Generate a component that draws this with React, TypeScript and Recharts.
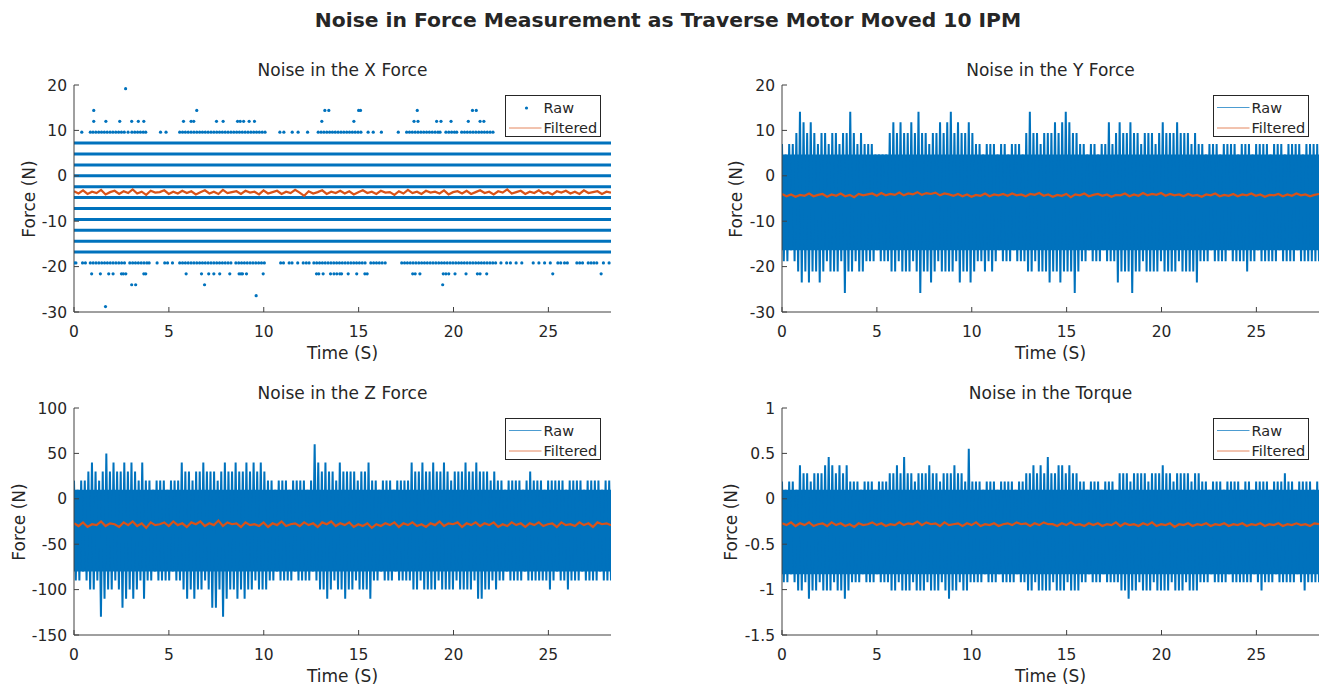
import React from 'react';
import { Area, ComposedChart, Line, Scatter, XAxis, YAxis } from 'recharts';

const FONT = '"DejaVu Sans", sans-serif';
const BLUE = '#0072BD';
const ORANGE = '#D95319';
const INK = '#262626';
const AXIS = '#404040';

const DURATION = 28.3;
const TIME_TICKS = [0, 5, 10, 15, 20, 25];
const FORCE_TICKS_XY = [-30, -20, -10, 0, 10, 20];
const FORCE_TICKS_Z = [-150, -100, -50, 0, 50, 100];
const TORQUE_TICKS = [-1.5, -1, -0.5, 0, 0.5, 1];

// X force raw: levels the sensor sits on through the whole record
const X_RAW_LEVELS = [7.2, 4.8, 2.4, 0, -2.4, -4.8, -7.2, -9.6, -12.0, -14.4, -16.8];
// X force raw: sparse samples (times in s) on the outer levels
const X_DOTS_19_2 = [2.72];
const X_DOTS_14_4 = [1.04, 6.47, 13.22, 13.43, 15.0, 15.1, 18.09, 21.0, 21.2];
const X_DOTS_12_0 = [
  1.04, 1.68, 2.41, 3.04, 3.39, 3.68, 5.77, 6.17, 6.31, 7.51, 7.86, 8.62, 8.76, 8.94, 9.23, 9.51,
  13.06, 14.75, 17.92, 18.13, 19.11, 19.34, 19.87, 20.78, 21.4, 21.6,
];
const X_DOTS_9_6 = [
  0.41, 0.86, 1.0, 1.15, 1.3, 1.45, 1.6, 1.75, 1.9, 2.05, 2.2, 2.35, 2.5, 2.65, 2.85, 3.05, 3.2,
  3.35, 3.5, 3.65, 3.78, 4.56, 4.85, 5.57, 5.72, 5.87, 6.02, 6.17, 6.32, 6.47, 6.62, 6.77, 6.92,
  7.07, 7.22, 7.37, 7.52, 7.67, 7.82, 7.97, 8.12, 8.27, 8.42, 8.57, 8.72, 8.87, 9.02, 9.17, 9.32,
  9.47, 9.62, 9.77, 9.92, 10.07, 10.85, 11.06, 11.5, 11.81, 12.31, 12.87, 13.02, 13.17, 13.32,
  13.47, 13.62, 13.77, 13.92, 14.07, 14.22, 14.37, 14.52, 14.67, 14.82, 14.97, 15.12, 15.5, 15.77,
  16.2, 17.09, 17.53, 17.68, 17.83, 17.98, 18.13, 18.28, 18.43, 18.58, 18.73, 18.88, 19.03, 19.18,
  19.29, 19.6, 19.75, 19.9, 20.05, 20.17, 20.43, 20.58, 20.73, 20.88, 21.03, 21.18, 21.33, 21.48,
  21.63, 21.78, 21.93, 22.08,
];
const X_DOTS_M19_2 = [
  0.0, 0.1, 0.45, 0.6, 0.86, 1.01, 1.16, 1.31, 1.46, 1.61, 1.76, 1.91, 2.06, 2.21, 2.36, 2.51,
  2.66, 2.94, 3.09, 3.24, 3.39, 3.54, 3.69, 3.84, 3.96, 4.38, 4.78, 4.93, 5.19, 5.57, 5.72, 5.87,
  6.02, 6.17, 6.32, 6.47, 6.62, 6.77, 6.92, 7.07, 7.22, 7.37, 7.52, 7.67, 7.82, 7.97, 8.12, 8.27,
  8.53, 8.68, 8.83, 8.98, 9.13, 9.28, 9.43, 9.58, 9.73, 9.88, 10.03, 10.89, 11.04, 11.34, 11.49,
  11.79, 12.08, 12.24, 12.39, 12.64, 12.79, 12.94, 13.09, 13.24, 13.39, 13.54, 13.69, 13.84, 13.99,
  14.14, 14.29, 14.44, 14.59, 14.74, 14.89, 15.04, 15.19, 15.34, 15.64, 15.79, 15.94, 16.09, 16.24,
  16.4, 17.27, 17.42, 17.57, 17.72, 17.87, 18.02, 18.17, 18.32, 18.47, 18.62, 18.77, 18.92, 19.07,
  19.22, 19.37, 19.52, 19.67, 19.82, 19.97, 20.12, 20.27, 20.42, 20.57, 20.72, 20.87, 21.02, 21.17,
  21.32, 21.47, 21.62, 21.77, 21.92, 22.07, 22.22, 22.5, 22.8, 23.0, 23.3, 23.6, 24.2, 24.5, 24.8,
  25.1, 25.5, 25.65, 25.85, 26.0, 26.5, 26.65, 26.8, 27.1, 27.25, 27.4, 27.55, 27.9, 28.2,
];
const X_DOTS_M21_6 = [
  0.93, 1.39, 1.83, 2.06, 2.5, 2.6, 2.73, 3.68, 3.78, 5.91, 6.72, 7.1, 7.37, 7.68, 8.21, 8.7, 8.8,
  8.88, 9.09, 9.97, 12.78, 12.9, 13.13, 13.52, 13.7, 13.85, 14.01, 14.1, 14.45, 14.9, 15.33, 15.45,
  17.85, 17.98, 18.23, 19.46, 19.6, 19.75, 20.08, 20.66, 21.26, 21.4, 21.75, 25.23, 27.78,
];
const X_DOTS_M24_0 = [3.04, 3.25, 6.88, 19.43];
const X_DOTS_M26_4 = [9.6];
const X_DOTS_M28_8 = [1.66];

const X_FILTERED = [
  -3.4, -3.9, -3.2, -4.0, -3.5, -3.8, -3.1, -4.1, -3.6, -3.3,
  -4.0, -3.4, -3.8, -3.0, -3.9, -3.5, -4.2, -3.3, -3.7, -3.6,
  -3.2, -4.0, -3.5, -3.9, -3.3, -3.8, -3.4, -4.1, -3.6, -3.2,
  -3.9, -3.5, -4.0, -3.1, -3.8, -3.6, -3.4, -4.0, -3.3, -3.7,
  -3.5, -4.1, -3.2, -3.9, -3.6, -3.3, -4.0, -3.5, -3.8, -3.1,
  -3.7, -4.4, -3.4, -3.9, -3.6, -3.2, -4.0, -3.5, -3.8, -3.3,
  -3.9, -3.4, -4.1, -3.6, -3.2, -3.8, -3.5, -4.0, -3.3, -3.7,
  -3.6, -4.2, -3.4, -3.9, -3.1, -3.8, -3.5, -4.0, -3.3, -3.7,
  -3.5, -3.9, -3.2, -4.1, -3.6, -3.4, -3.9, -3.3, -4.0, -3.6,
  -3.2, -3.8, -3.5, -4.1, -3.4, -3.7, -3.0, -3.9, -3.6, -3.3,
  -4.0, -3.5, -3.8, -3.2, -3.9, -3.6, -4.1, -3.4, -3.7, -3.3,
  -3.9, -3.5, -4.0, -3.2, -3.8, -3.6, -3.4, -4.0, -3.5, -3.7,
];

// Y force raw: band always covered, then per-interval peaks and troughs
const Y_RAW_CORE = [-16.4, 4.7];
const Y_RAW_HIGH = [
  7.0, 4.7, 7.0, 7.0, 9.4, 14.1, 11.8, 9.4, 11.8, 9.4,
  7.0, 9.4, 9.4, 7.0, 9.4, 9.4, 7.0, 9.4, 9.4, 14.1,
  9.4, 7.0, 9.4, 7.0, 7.0, 7.0, 4.7, 4.7, 4.7, 4.7,
  9.4, 11.8, 9.4, 11.8, 9.4, 9.4, 11.8, 9.4, 14.1, 9.4,
  9.4, 7.0, 9.4, 9.4, 11.8, 9.4, 11.8, 14.1, 9.4, 11.8,
  9.4, 9.4, 11.8, 9.4, 7.0, 7.0, 4.7, 7.0, 7.0, 7.0,
  4.7, 7.0, 7.0, 4.7, 7.0, 7.0, 7.0, 4.7, 9.4, 14.1,
  9.4, 9.4, 7.0, 9.4, 9.4, 9.4, 11.8, 9.4, 11.8, 14.1,
  11.8, 9.4, 9.4, 7.0, 7.0, 4.7, 7.0, 7.0, 4.7, 7.0,
  7.0, 11.8, 7.0, 9.4, 11.8, 9.4, 9.4, 11.8, 9.4, 9.4,
  7.0, 9.4, 9.4, 9.4, 7.0, 9.4, 11.8, 9.4, 9.4, 9.4,
  11.8, 9.4, 9.4, 9.4, 7.0, 9.4, 7.0, 7.0, 4.7, 7.0,
  7.0, 7.0, 4.7, 7.0, 7.0, 7.0, 7.0, 4.7, 7.0, 7.0,
  7.0, 4.7, 7.0, 7.0, 7.0, 7.0, 4.7, 7.0, 7.0, 7.0,
  4.7, 7.0, 7.0, 7.0, 7.0, 4.7, 7.0, 7.0, 7.0, 7.0,
];
const Y_RAW_LOW = [
  -18.8, -18.8, -16.4, -18.8, -21.1, -23.5, -21.1, -23.5, -21.1, -21.1,
  -23.5, -21.1, -18.8, -21.1, -21.1, -21.1, -18.8, -25.8, -21.1, -21.1,
  -18.8, -21.1, -21.1, -18.8, -18.8, -18.8, -16.4, -18.8, -18.8, -18.8,
  -21.1, -21.1, -18.8, -21.1, -21.1, -21.1, -18.8, -21.1, -25.8, -21.1,
  -21.1, -23.5, -21.1, -18.8, -21.1, -21.1, -21.1, -21.1, -18.8, -23.5,
  -21.1, -21.1, -23.5, -21.1, -18.8, -18.8, -21.1, -18.8, -21.1, -18.8,
  -16.4, -18.8, -18.8, -18.8, -16.4, -18.8, -18.8, -18.8, -21.1, -21.1,
  -18.8, -21.1, -21.1, -21.1, -23.5, -21.1, -21.1, -23.5, -21.1, -21.1,
  -21.1, -25.8, -21.1, -18.8, -18.8, -16.4, -18.8, -18.8, -18.8, -16.4,
  -18.8, -18.8, -18.8, -23.5, -21.1, -21.1, -21.1, -25.8, -21.1, -21.1,
  -18.8, -21.1, -21.1, -21.1, -21.1, -18.8, -21.1, -21.1, -21.1, -21.1,
  -18.8, -21.1, -21.1, -21.1, -21.1, -23.5, -18.8, -18.8, -18.8, -16.4,
  -18.8, -18.8, -18.8, -18.8, -16.4, -18.8, -18.8, -18.8, -18.8, -21.1,
  -18.8, -18.8, -16.4, -18.8, -18.8, -18.8, -18.8, -18.8, -16.4, -18.8,
  -18.8, -18.8, -18.8, -16.4, -18.8, -18.8, -18.8, -18.8, -18.8, -18.8,
];
const Y_FILTERED = [
  -4.0, -4.5, -4.1, -4.6, -4.2, -4.4, -3.9, -4.5, -4.2, -4.0,
  -4.6, -4.1, -4.4, -3.9, -4.5, -4.2, -4.7, -4.0, -4.3, -4.1,
  -3.9, -4.4, -3.8, -4.3, -4.0, -4.2, -3.7, -4.3, -3.9, -4.1,
  -3.6, -4.2, -3.8, -4.0, -3.7, -4.3, -3.9, -4.1, -4.4, -4.0,
  -4.5, -4.1, -4.6, -4.2, -4.4, -3.9, -4.5, -4.1, -4.3, -4.0,
  -4.4, -3.9, -4.3, -4.1, -4.5, -4.0, -4.2, -3.8, -4.4, -4.1,
  -4.6, -4.2, -4.4, -4.0, -4.7, -4.1, -4.3, -3.9, -4.5, -4.2,
  -4.0, -4.4, -4.1, -4.6, -4.2, -4.3, -3.9, -4.5, -4.1, -4.4,
  -3.8, -4.3, -4.0, -4.2, -3.8, -4.4, -4.0, -4.3, -4.1, -4.5,
  -4.0, -4.4, -4.2, -4.6, -4.1, -4.3, -3.9, -4.5, -4.2, -4.4,
  -4.0, -4.5, -4.1, -4.3, -3.9, -4.4, -4.1, -4.6, -4.2, -4.3,
  -4.0, -4.5, -4.1, -4.4, -3.9, -4.3, -4.1, -4.5, -4.2, -4.0,
];

// Z force raw
const Z_RAW_CORE = [-80, 10];
const Z_RAW_HIGH = [
  20, 10, 20, 20, 30, 40, 30, 20, 30, 50,
  30, 40, 30, 30, 40, 30, 40, 30, 20, 40,
  20, 20, 10, 20, 20, 20, 10, 20, 20, 20,
  40, 30, 30, 20, 30, 30, 40, 30, 30, 30,
  20, 30, 40, 30, 30, 40, 30, 30, 40, 30,
  40, 30, 40, 30, 20, 20, 10, 20, 20, 20,
  10, 20, 20, 20, 20, 10, 20, 60, 40, 30,
  40, 30, 30, 20, 40, 30, 30, 30, 30, 20,
  30, 30, 40, 20, 20, 10, 20, 20, 20, 10,
  20, 20, 20, 20, 40, 30, 30, 40, 30, 30,
  40, 30, 30, 40, 30, 20, 30, 30, 30, 40,
  30, 30, 40, 30, 30, 30, 20, 30, 20, 20,
  10, 20, 20, 20, 20, 10, 20, 30, 20, 20,
  20, 10, 20, 20, 20, 20, 20, 10, 20, 20,
  20, 20, 10, 20, 20, 20, 20, 10, 20, 20,
];
const Z_RAW_LOW = [
  -90, -90, -80, -90, -100, -100, -90, -130, -110, -100,
  -100, -90, -100, -120, -110, -100, -110, -100, -90, -110,
  -90, -90, -80, -90, -90, -90, -90, -80, -90, -90,
  -100, -110, -100, -110, -100, -100, -90, -100, -120, -120,
  -100, -130, -110, -100, -100, -110, -100, -110, -100, -100,
  -90, -100, -100, -100, -90, -90, -80, -90, -90, -90,
  -90, -80, -90, -90, -90, -90, -80, -90, -100, -100,
  -110, -100, -90, -100, -100, -110, -100, -100, -90, -100,
  -100, -100, -110, -90, -90, -80, -90, -90, -90, -80,
  -90, -90, -90, -90, -100, -100, -90, -100, -100, -100,
  -100, -90, -100, -100, -100, -100, -90, -100, -100, -100,
  -100, -90, -110, -110, -100, -100, -90, -100, -90, -90,
  -80, -90, -90, -90, -90, -80, -90, -90, -90, -90,
  -90, -90, -100, -90, -80, -90, -90, -100, -90, -90,
  -90, -80, -90, -90, -90, -90, -80, -90, -90, -90,
];
const Z_FILTERED = [
  -27, -30, -26, -31, -28, -29, -25, -30, -27, -28,
  -31, -26, -29, -25, -30, -27, -32, -26, -29, -28,
  -26, -30, -25, -29, -27, -31, -26, -28, -25, -30,
  -27, -29, -24, -30, -26, -28, -27, -31, -26, -29,
  -28, -30, -26, -31, -27, -29, -25, -30, -28, -27,
  -30, -26, -29, -27, -31, -26, -28, -25, -30, -27,
  -29, -26, -31, -28, -30, -27, -32, -28, -30, -27,
  -29, -26, -31, -27, -29, -26, -30, -28, -31, -27,
  -29, -25, -30, -27, -28, -26, -31, -27, -29, -26,
  -30, -27, -29, -26, -31, -28, -30, -26, -29, -27,
  -31, -27, -29, -26, -30, -28, -27, -31, -26, -29,
  -28, -30, -26, -29, -27, -31, -26, -28, -27, -29,
];

// torque raw
const T_RAW_CORE = [-0.83, 0.1];
const T_RAW_HIGH = [
  0.19, 0.1, 0.19, 0.19, 0.1, 0.37, 0.28, 0.28, 0.19, 0.28,
  0.28, 0.28, 0.37, 0.46, 0.37, 0.28, 0.37, 0.28, 0.37, 0.19,
  0.19, 0.19, 0.1, 0.19, 0.19, 0.19, 0.1, 0.19, 0.19, 0.19,
  0.28, 0.28, 0.37, 0.28, 0.46, 0.28, 0.28, 0.19, 0.28, 0.28,
  0.28, 0.37, 0.28, 0.28, 0.19, 0.28, 0.28, 0.28, 0.37, 0.28,
  0.28, 0.19, 0.55, 0.19, 0.19, 0.19, 0.1, 0.19, 0.19, 0.19,
  0.1, 0.19, 0.19, 0.19, 0.19, 0.1, 0.19, 0.19, 0.28, 0.28,
  0.37, 0.28, 0.37, 0.28, 0.46, 0.28, 0.28, 0.37, 0.37, 0.28,
  0.37, 0.28, 0.28, 0.19, 0.19, 0.1, 0.19, 0.19, 0.19, 0.1,
  0.19, 0.19, 0.19, 0.1, 0.28, 0.28, 0.28, 0.19, 0.28, 0.28,
  0.28, 0.28, 0.19, 0.28, 0.28, 0.28, 0.37, 0.28, 0.28, 0.19,
  0.28, 0.28, 0.28, 0.28, 0.19, 0.28, 0.28, 0.19, 0.19, 0.1,
  0.19, 0.19, 0.19, 0.1, 0.19, 0.19, 0.19, 0.19, 0.1, 0.19,
  0.19, 0.1, 0.19, 0.19, 0.19, 0.19, 0.1, 0.19, 0.19, 0.19,
  0.28, 0.19, 0.19, 0.1, 0.19, 0.19, 0.19, 0.19, 0.1, 0.19,
];
const T_RAW_LOW = [
  -0.92, -0.92, -0.83, -0.92, -1.01, -1.01, -0.92, -1.1, -1.01, -1.01,
  -0.92, -1.01, -1.01, -1.01, -0.92, -1.01, -1.01, -1.1, -1.01, -0.92,
  -0.92, -0.92, -0.83, -0.92, -0.92, -0.92, -0.83, -0.92, -0.92, -0.92,
  -1.01, -1.01, -0.92, -1.01, -1.01, -1.01, -0.92, -1.01, -1.01, -1.01,
  -0.92, -1.01, -1.01, -1.01, -0.92, -1.01, -1.1, -1.01, -1.01, -0.92,
  -1.01, -1.01, -0.92, -0.92, -0.92, -0.92, -0.83, -0.92, -0.92, -0.92,
  -0.83, -0.92, -0.92, -0.92, -0.92, -0.83, -0.92, -0.92, -1.01, -1.01,
  -0.92, -1.01, -1.01, -1.01, -1.01, -0.92, -1.01, -1.01, -1.01, -0.92,
  -1.01, -1.01, -1.01, -0.92, -0.92, -0.83, -0.92, -0.92, -0.92, -0.83,
  -0.92, -0.92, -0.92, -0.92, -1.01, -1.01, -1.1, -1.01, -1.01, -0.92,
  -1.01, -1.01, -1.01, -0.92, -1.01, -1.01, -1.01, -1.01, -0.92, -1.01,
  -1.01, -1.01, -0.92, -1.01, -1.01, -1.01, -0.92, -0.92, -0.92, -0.83,
  -0.92, -0.92, -0.92, -0.92, -0.83, -0.92, -0.92, -0.92, -0.92, -0.92,
  -0.92, -0.83, -0.92, -1.01, -0.92, -0.92, -0.92, -0.83, -0.92, -0.92,
  -0.92, -0.92, -0.92, -0.83, -0.92, -1.01, -0.92, -0.92, -0.92, -0.92,
];
const T_FILTERED = [
  -0.27, -0.29, -0.26, -0.30, -0.27, -0.29, -0.26, -0.30, -0.28, -0.27,
  -0.30, -0.26, -0.29, -0.27, -0.30, -0.28, -0.31, -0.27, -0.29, -0.28,
  -0.26, -0.29, -0.27, -0.30, -0.28, -0.29, -0.26, -0.29, -0.27, -0.28,
  -0.25, -0.29, -0.26, -0.28, -0.27, -0.30, -0.26, -0.29, -0.28, -0.27,
  -0.30, -0.27, -0.29, -0.26, -0.30, -0.28, -0.29, -0.27, -0.30, -0.28,
  -0.27, -0.29, -0.26, -0.28, -0.27, -0.30, -0.27, -0.29, -0.26, -0.28,
  -0.28, -0.30, -0.27, -0.29, -0.26, -0.29, -0.28, -0.30, -0.27, -0.29,
  -0.27, -0.30, -0.28, -0.29, -0.26, -0.30, -0.27, -0.29, -0.28, -0.30,
  -0.27, -0.29, -0.26, -0.30, -0.28, -0.29, -0.27, -0.31, -0.28, -0.29,
  -0.27, -0.30, -0.28, -0.29, -0.27, -0.30, -0.28, -0.29, -0.27, -0.30,
  -0.28, -0.29, -0.27, -0.30, -0.28, -0.29, -0.27, -0.30, -0.28, -0.29,
  -0.27, -0.30, -0.28, -0.29, -0.27, -0.29, -0.28, -0.30, -0.27, -0.28,
];

type Pt = { t: number; v: number | number[] };

// peaks and troughs alternate, evenly spaced over the record
const zigzag = (high: number[], low: number[]): Pt[] => {
  const n = high.length * 2;
  const pts: Pt[] = [];
  high.forEach((h, i) => {
    pts.push({ t: (2 * i * DURATION) / (n - 1), v: h });
    pts.push({ t: ((2 * i + 1) * DURATION) / (n - 1), v: low[i] });
  });
  return pts;
};
const sampled = (values: number[]): Pt[] =>
  values.map((v, i) => ({ t: (i * DURATION) / (values.length - 1), v }));
const band = (core: number[]): Pt[] => [
  { t: 0, v: core },
  { t: DURATION, v: core },
];
const level = (v: number): Pt[] => [
  { t: 0, v },
  { t: DURATION, v },
];
const dots = (v: number, times: number[]): Pt[] => times.map((t) => ({ t, v }));

const X_SPARSE: Pt[] = [
  ...dots(19.2, X_DOTS_19_2),
  ...dots(14.4, X_DOTS_14_4),
  ...dots(12.0, X_DOTS_12_0),
  ...dots(9.6, X_DOTS_9_6),
  ...dots(-19.2, X_DOTS_M19_2),
  ...dots(-21.6, X_DOTS_M21_6),
  ...dots(-24.0, X_DOTS_M24_0),
  ...dots(-26.4, X_DOTS_M26_4),
  ...dots(-28.8, X_DOTS_M28_8),
];

const PLOT_W = 537;
const PLOT_H = 227;
const AXIS_W = 70;
const TOP_PAD = 14;

const text = (size: number, weight = 400): React.CSSProperties => ({
  position: 'absolute',
  fontFamily: FONT,
  fontSize: size,
  fontWeight: weight,
  lineHeight: `${size}px`,
  color: INK,
  whiteSpace: 'nowrap',
});

const tickStyle = { fill: INK, fontSize: 15.5, fontFamily: FONT };

function Marker(props: any) {
  return <circle cx={props.cx} cy={props.cy} r={1.6} fill={BLUE} />;
}

function LegendBox({ right, top, rawDot }: { right: number; top: number; rawDot?: boolean }) {
  return (
    <div
      style={{
        position: 'absolute',
        left: right - 96,
        top,
        width: 96,
        height: 42,
        background: '#fff',
        border: `1px solid ${INK}`,
        boxSizing: 'border-box',
      }}
    >
      <svg width={94} height={40} style={{ position: 'absolute', left: 0, top: 0 }}>
        {rawDot ? (
          <circle cx={20.5} cy={12} r={1.6} fill={BLUE} />
        ) : (
          <line x1={3} x2={35.5} y1={11.5} y2={11.5} stroke={BLUE} strokeOpacity={0.7} />
        )}
        <line x1={3} x2={35.5} y1={32} y2={32} stroke={ORANGE} strokeOpacity={0.7} />
        <text x={37.5} y={17} fontFamily={FONT} fontSize={14.5} fill={INK}>
          Raw
        </text>
        <text x={37.5} y={37} fontFamily={FONT} fontSize={14.5} fill={INK}>
          Filtered
        </text>
      </svg>
    </div>
  );
}

type PanelProps = {
  left: number;
  top: number;
  title: string;
  ticks: number[];
  labelX: number;
  rawDot?: boolean;
  children: React.ReactNode;
};

function Panel({ left, top, title, ticks, labelX, rawDot, children }: PanelProps) {
  const domain = [ticks[0], ticks[ticks.length - 1]];
  return (
    <>
      <div style={{ ...text(17), left: left + PLOT_W / 2, top: top - 23, transform: 'translateX(-50%)' }}>
        {title}
      </div>
      <div style={{ position: 'absolute', left: left - AXIS_W, top: top - TOP_PAD }}>
        <ComposedChart
          width={AXIS_W + PLOT_W + 5}
          height={PLOT_H + 40 + TOP_PAD}
          margin={{ top: TOP_PAD, right: 5, bottom: 0, left: 0 }}
        >
          <XAxis
            xAxisId="top"
            orientation="top"
            type="number"
            dataKey="t"
            domain={[0, DURATION]}
            ticks={TIME_TICKS}
            allowDataOverflow
            height={0}
            tick={false}
            tickSize={-5}
            stroke={AXIS}
          />
          <YAxis
            yAxisId="right"
            orientation="right"
            type="number"
            dataKey="v"
            domain={domain}
            ticks={ticks}
            allowDataOverflow
            width={0}
            tick={false}
            tickSize={-5}
            stroke={AXIS}
          />
          <XAxis
            type="number"
            dataKey="t"
            domain={[0, DURATION]}
            ticks={TIME_TICKS}
            interval={0}
            allowDataOverflow
            height={40}
            tickSize={-5}
            tickMargin={19}
            tick={tickStyle}
            stroke={AXIS}
          />
          <YAxis
            type="number"
            dataKey="v"
            domain={domain}
            ticks={ticks}
            interval={0}
            allowDataOverflow
            width={AXIS_W}
            tickSize={-5}
            tickMargin={12}
            tick={tickStyle}
            stroke={AXIS}
          />
          {children}
        </ComposedChart>
      </div>
      <div
        style={{
          ...text(17),
          left: labelX,
          top: top + PLOT_H / 2,
          transform: 'translate(-50%, -50%) rotate(-90deg)',
        }}
      >
        Force (N)
      </div>
      <div style={{ ...text(17), left: left + PLOT_W / 2, top: top + PLOT_H + 33, transform: 'translateX(-50%)' }}>
        Time (S)
      </div>
      <LegendBox right={left + PLOT_W - 10.5} top={top + 10} rawDot={rawDot} />
    </>
  );
}

function NoisePanel(props: Omit<PanelProps, 'children'> & {
  core: number[];
  high: number[];
  low: number[];
  filtered: number[];
}) {
  const { core, high, low, filtered, ...rest } = props;
  return (
    <Panel {...rest}>
      <Area
        data={band(core)}
        dataKey="v"
        type="linear"
        stroke="none"
        fill={BLUE}
        fillOpacity={1}
        dot={false}
        activeDot={false}
        isAnimationActive={false}
      />
      <Line
        data={zigzag(high, low)}
        dataKey="v"
        type="linear"
        stroke={BLUE}
        strokeWidth={2}
        dot={false}
        activeDot={false}
        isAnimationActive={false}
      />
      <Line
        data={sampled(filtered)}
        dataKey="v"
        type="linear"
        stroke={ORANGE}
        strokeWidth={2.2}
        dot={false}
        activeDot={false}
        isAnimationActive={false}
      />
    </Panel>
  );
}

export default function App() {
  return (
    <div
      style={{
        position: 'absolute',
        left: 0,
        top: 0,
        width: 1325,
        height: 694,
        background: '#fff',
        overflow: 'hidden',
      }}
    >
      <div style={{ ...text(20.3, 700), left: 668, top: 10, transform: 'translateX(-50%)' }}>
        Noise in Force Measurement as Traverse Motor Moved 10 IPM
      </div>

      <Panel left={74} top={85} title="Noise in the X Force" ticks={FORCE_TICKS_XY} labelX={28.5} rawDot>
        {X_RAW_LEVELS.map((v) => (
          <Line
            key={v}
            data={level(v)}
            dataKey="v"
            stroke={BLUE}
            strokeWidth={3}
            dot={false}
            activeDot={false}
            isAnimationActive={false}
          />
        ))}
        <Scatter data={X_SPARSE} dataKey="v" fill={BLUE} shape={Marker} isAnimationActive={false} />
        <Line
          data={sampled(X_FILTERED)}
          dataKey="v"
          stroke={ORANGE}
          strokeWidth={2.2}
          dot={false}
          activeDot={false}
          isAnimationActive={false}
        />
      </Panel>

      <NoisePanel
        left={782}
        top={85}
        title="Noise in the Y Force"
        ticks={FORCE_TICKS_XY}
        labelX={736}
        core={Y_RAW_CORE}
        high={Y_RAW_HIGH}
        low={Y_RAW_LOW}
        filtered={Y_FILTERED}
      />
      <NoisePanel
        left={74}
        top={408}
        title="Noise in the Z Force"
        ticks={FORCE_TICKS_Z}
        labelX={19}
        core={Z_RAW_CORE}
        high={Z_RAW_HIGH}
        low={Z_RAW_LOW}
        filtered={Z_FILTERED}
      />
      <NoisePanel
        left={782}
        top={408}
        title="Noise in the Torque"
        ticks={TORQUE_TICKS}
        labelX={731}
        core={T_RAW_CORE}
        high={T_RAW_HIGH}
        low={T_RAW_LOW}
        filtered={T_FILTERED}
      />
    </div>
  );
}
